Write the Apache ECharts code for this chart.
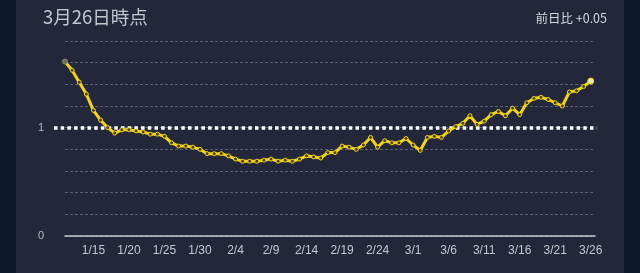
<!DOCTYPE html>
<html><head><meta charset="utf-8">
<script src="https://cdn.jsdelivr.net/npm/echarts@6/dist/echarts.min.js"></script>
<style>
html,body{margin:0;padding:0;width:640px;height:273px;background:#0e1a2c;overflow:hidden;}
#c{position:absolute;left:16px;top:0;width:608px;height:273px;}
</style></head><body><div id="c"></div>
<script>
const titleText = '3月26日時点';
const diffText = '前日比 +0.05';
const dates = ['1/11','1/12','1/13','1/14','1/15','1/16','1/17','1/18','1/19','1/20','1/21','1/22','1/23','1/24','1/25','1/26','1/27','1/28','1/29','1/30','1/31',
'2/1','2/2','2/3','2/4','2/5','2/6','2/7','2/8','2/9','2/10','2/11','2/12','2/13','2/14','2/15','2/16','2/17','2/18','2/19','2/20','2/21','2/22','2/23','2/24','2/25','2/26','2/27','2/28',
'3/1','3/2','3/3','3/4','3/5','3/6','3/7','3/8','3/9','3/10','3/11','3/12','3/13','3/14','3/15','3/16','3/17','3/18','3/19','3/20','3/21','3/22','3/23','3/24','3/25','3/26'];
const values = [1.61,1.53,1.42,1.31,1.16,1.07,1.00,0.95,0.98,0.98,0.97,0.96,0.94,0.94,0.92,0.86,0.83,0.83,0.82,0.80,0.76,
0.76,0.76,0.74,0.71,0.69,0.69,0.69,0.70,0.71,0.69,0.70,0.69,0.71,0.74,0.73,0.72,0.77,0.77,0.83,0.82,0.80,0.84,0.91,0.82,0.88,0.86,0.86,0.90,
0.84,0.79,0.91,0.92,0.91,0.97,1.01,1.04,1.11,1.03,1.06,1.12,1.15,1.11,1.18,1.12,1.23,1.27,1.28,1.26,1.23,1.20,1.33,1.34,1.38,1.43];
const tickDates = ['1/15','1/20','1/25','1/30','2/4','2/9','2/14','2/19','2/24','3/1','3/6','3/11','3/16','3/21','3/26'];
const yLabels = {0:'0', 1:'1'};
const refValue = 1;

const chart = echarts.init(document.getElementById('c'), null, {renderer:'canvas'});
const last = values.length - 1;
const seriesData = values.map((v,i)=> {
  const p = {value:[i, v]};
  if (i === last) { p.symbolSize = 6; p.itemStyle = {color:'#e8e6c0', borderColor:'#f2d41c'}; }
  if (i === 0) { p.symbolSize = 5; p.itemStyle = {color:'#6a6c60', borderColor:'#8a8c70'}; }
  return p;
});
const tickIdx = tickDates.map(d => dates.indexOf(d));
chart.setOption({
  backgroundColor:'#24263a',
  animation:false,
  textStyle:{fontFamily:'"Noto Sans CJK JP", "Noto Sans", sans-serif'},
  title:[
    {text:titleText, left:22, top:3, textStyle:{color:'#c4c6d0', fontSize:18.5, fontWeight:'normal', fontFamily:'"Noto Sans CJK JP", sans-serif'}},
    {text:diffText, right:12, top:7, textStyle:{color:'#d4d6dc', fontSize:12.5, fontWeight:'normal', fontFamily:'"Noto Sans CJK JP", sans-serif'}}
  ],
  grid:{left:49, right:29, top:41, bottom:37, containLabel:false},
  xAxis:{
    type:'value', min:0, max:last + 0.6,
    axisLine:{show:true, onZero:false, lineStyle:{color:'#c8c8d2', width:1.5}},
    axisTick:{show:false},
    axisLabel:{customValues:tickIdx, showMinLabel:true, showMaxLabel:true, hideOverlap:false, color:'#c4c6d0', fontSize:12, margin:9, fontFamily:'"Liberation Sans", sans-serif',
      formatter:(v)=> dates[Math.round(v)] || ''},
    splitLine:{show:false}
  },
  yAxis:{
    type:'value', min:0, max:1.8, interval:0.2,
    axisLine:{show:false}, axisTick:{show:false},
    axisLabel:{color:'#b8bac4', fontSize:11, margin:21, fontFamily:'"Liberation Sans", sans-serif',
      formatter:(v)=> Math.abs(v-Math.round(v))<1e-6 && yLabels[Math.round(v)] !== undefined ? yLabels[Math.round(v)] : ''},
    splitLine:{show:true, lineStyle:{color:'#5c6078', width:1, type:[3,2]}}
  },
  series:[{
    type:'line', data:seriesData, clip:false,
    symbol:'circle', symbolSize:4, showSymbol:true,
    lineStyle:{color:'#f2d41c', width:3},
    itemStyle:{color:'#4a4420', borderColor:'#f2d41c', borderWidth:1},
    z:5,
    markLine:{
      silent:true, symbol:'none', label:{show:false},
      lineStyle:{color:'#ffffff', width:3.5, type:[3.5,3.2], opacity:1},
      data:[[{x:38, yAxis:refValue},{x:581, yAxis:refValue}]],
      z:3
    }
  }]
});
</script></body></html>
